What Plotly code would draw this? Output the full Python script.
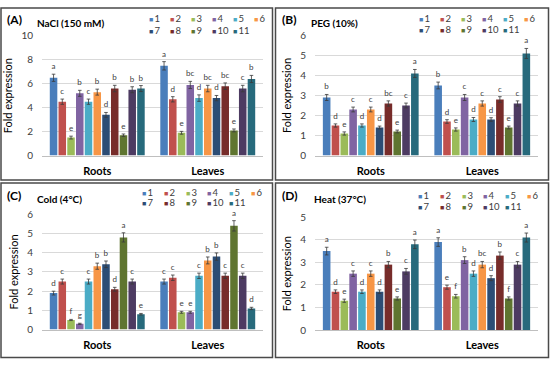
import plotly.graph_objects as go

W, H = 550, 365

tissues = ["Roots", "Leaves"]
series_names = ["1", "2", "3", "4", "5", "6", "7", "8", "9", "10", "11"]
series_colors = ["#4A7EBB", "#C0504D", "#9BBB59", "#8064A2", "#4BACC6", "#F79646",
                 "#2C4D75", "#772C2A", "#5F7530", "#4D3B62", "#276A7C"]

# (A) NaCl
nacl_roots = [6.5, 4.5, 1.5, 5.2, 4.5, 5.3, 3.4, 5.6, 1.7, 5.5, 5.6]
nacl_leaves = [7.5, 4.7, 1.9, 5.9, 4.8, 5.6, 4.8, 5.8, 2.1, 5.6, 6.4]
nacl_roots_err = [0.3, 0.22, 0.12, 0.25, 0.22, 0.25, 0.2, 0.27, 0.1, 0.25, 0.25]
nacl_leaves_err = [0.35, 0.22, 0.12, 0.3, 0.27, 0.27, 0.22, 0.27, 0.12, 0.27, 0.3]
nacl_roots_let = ["a", "c", "e", "b", "c", "b", "d", "b", "e", "b", "b"]
nacl_leaves_let = ["a", "d", "e", "bc", "d", "bc", "d", "bc", "e", "c", "b"]

# (B) PEG
peg_roots = [2.9, 1.5, 1.1, 2.3, 1.5, 2.3, 1.4, 2.6, 1.2, 2.5, 4.1]
peg_leaves = [3.5, 1.7, 1.3, 2.9, 1.8, 2.6, 1.8, 2.8, 1.4, 2.6, 5.1]
peg_roots_err = [0.15, 0.08, 0.08, 0.12, 0.08, 0.12, 0.07, 0.13, 0.07, 0.12, 0.2]
peg_leaves_err = [0.17, 0.09, 0.08, 0.15, 0.1, 0.13, 0.09, 0.14, 0.07, 0.13, 0.25]
peg_roots_let = ["b", "d", "e", "c", "d", "c", "d", "bc", "e", "c", "a"]
peg_leaves_let = ["b", "d", "e", "c", "d", "c", "d", "c", "e", "c", "a"]

# (C) Cold
cold_roots = [1.9, 2.5, 0.5, 0.3, 2.5, 3.3, 3.4, 2.1, 4.8, 2.5, 0.8]
cold_leaves = [2.5, 2.7, 0.9, 0.9, 2.8, 3.6, 3.8, 2.8, 5.4, 2.8, 1.1]
cold_roots_err = [0.1, 0.13, 0.03, 0.03, 0.13, 0.16, 0.17, 0.1, 0.24, 0.13, 0.04]
cold_leaves_err = [0.13, 0.14, 0.05, 0.05, 0.14, 0.18, 0.19, 0.14, 0.27, 0.14, 0.06]
cold_roots_let = ["d", "c", "f", "g", "c", "b", "b", "d", "a", "c", "e"]
cold_leaves_let = ["c", "c", "e", "e", "c", "b", "b", "c", "a", "c", "d"]

# (D) Heat
heat_roots = [3.5, 1.7, 1.3, 2.5, 1.7, 2.5, 1.7, 2.9, 1.4, 2.6, 3.8]
heat_leaves = [3.9, 1.9, 1.5, 3.1, 2.5, 2.9, 2.3, 3.3, 1.4, 2.9, 4.1]
heat_roots_err = [0.17, 0.08, 0.07, 0.12, 0.08, 0.12, 0.08, 0.14, 0.07, 0.13, 0.19]
heat_leaves_err = [0.19, 0.09, 0.08, 0.15, 0.12, 0.14, 0.11, 0.16, 0.07, 0.14, 0.2]
heat_roots_let = ["a", "d", "e", "c", "d", "c", "d", "b", "e", "c", "a"]
heat_leaves_let = ["a", "e", "f", "b", "d", "bc", "d", "b", "f", "c", "a"]

panel_labels = ["(A)", "(B)", "(C)", "(D)"]
panel_titles = ["NaCl (150 mM)", "PEG (10%)", "Cold (4°C)", "Heat (37°C)"]
y_max = [10, 6, 6, 5]
y_dtick = [2, 1, 1, 1]

panels = [
    (nacl_roots, nacl_leaves, nacl_roots_err, nacl_leaves_err, nacl_roots_let, nacl_leaves_let),
    (peg_roots, peg_leaves, peg_roots_err, peg_leaves_err, peg_roots_let, peg_leaves_let),
    (cold_roots, cold_leaves, cold_roots_err, cold_leaves_err, cold_roots_let, cold_leaves_let),
    (heat_roots, heat_leaves, heat_roots_err, heat_leaves_err, heat_roots_let, heat_leaves_let),
]

FONT = "Lato, 'Open Sans', sans-serif"

# layout geometry (pixels)
plot_x = [(42, 263), (315, 538), (42, 263), (315, 538)]
plot_y = [(30, 154), (29.5, 154), (215, 334.5), (218, 335)]
boxes = [(1, 1, 272.5, 179.5), (275.5, 1, 548.5, 179.5),
         (1, 182.5, 272.5, 363.5), (275.5, 182.5, 548.5, 363.5)]
label_pos = [(6, 13), (281, 13), (6, 195), (281, 195)]
title_pos = [(36, 17), (310, 17), (36, 199), (313, 199)]
legend_start = [(147.5, 12.3, 24.0), (418, 12.3, 23.5), (141, 192.5, 203.0), (417, 195.3, 206.5)]
legend_step = [21, 21, 21.8, 21.8]

def px(x):
    return x / W

def py(y):
    return 1 - y / H

fig = go.Figure()
annotations = []
shapes = []

for p, (r, l, re, le, rl, ll) in enumerate(panels):
    sfx = "" if p == 0 else str(p + 1)
    xa, ya = "x" + sfx, "y" + sfx
    for i, name in enumerate(series_names):
        vals = [r[i], l[i]]
        errs = [re[i], le[i]]
        fig.add_trace(go.Bar(
            x=tissues, y=vals, name=name, xaxis=xa, yaxis=ya,
            offsetgroup="s" + name, showlegend=False,
            marker=dict(color=series_colors[i], line=dict(width=0)),
            error_y=dict(type="data", array=errs, visible=True,
                         color="#3a3a3a", thickness=0.8, width=1.8),
        ))
        # letters placed just above the error bars
        fig.add_trace(go.Bar(
            x=tissues, y=[v + e for v, e in zip(vals, errs)], xaxis=xa, yaxis=ya,
            offsetgroup="s" + name, showlegend=False, hoverinfo="skip",
            marker=dict(color="rgba(0,0,0,0)", line=dict(width=0)),
            text=[rl[i], ll[i]], textposition="outside", cliponaxis=False,
            constraintext="none",
            textfont=dict(family=FONT, size=8, color="#404040"),
        ))
    # legend built from the series names/colours
    lx, ly1, ly2 = legend_start[p]
    for i, name in enumerate(series_names):
        row = i // 6
        col = i % 6
        annotations.append(dict(
            xref="paper", yref="paper", x=px(lx + col * legend_step[p]),
            y=py(ly1 if row == 0 else ly2), xanchor="left", yanchor="middle",
            showarrow=False, borderpad=0,
            text=f"<span style='color:{series_colors[i]};font-size:7px'>■</span>\u2009{name}",
            font=dict(family=FONT, size=9.5, color="#404040"),
        ))
    annotations.append(dict(
        xref="paper", yref="paper", x=px(label_pos[p][0]), y=py(label_pos[p][1]),
        xanchor="left", yanchor="middle", showarrow=False, borderpad=0,
        text=f"<b>{panel_labels[p]}</b>", font=dict(family=FONT, size=12, color="#000000")))
    annotations.append(dict(
        xref="paper", yref="paper", x=px(title_pos[p][0]), y=py(title_pos[p][1]),
        xanchor="left", yanchor="middle", showarrow=False, borderpad=0,
        text=f"<b>{panel_titles[p]}</b>", font=dict(family=FONT, size=10, color="#000000")))
    bx0, by0, bx1, by1 = boxes[p]
    shapes.append(dict(type="rect", xref="paper", yref="paper",
                       x0=px(bx0), y0=py(by1), x1=px(bx1), y1=py(by0),
                       line=dict(color="#4a4a4a", width=1.5), layer="below"))

    xdom = [px(plot_x[p][0]), px(plot_x[p][1])]
    ydom = [py(plot_y[p][1]), py(plot_y[p][0])]
    fig.layout["xaxis" + sfx] = dict(
        domain=xdom, anchor=ya, type="category", showgrid=False, showline=True,
        linecolor="#BFBFBF", linewidth=1, ticks="", ticklabelstandoff=5,
        tickfont=dict(family=FONT, size=11, color="#000000", weight="bold"),
        fixedrange=True,
    )
    fig.layout["yaxis" + sfx] = dict(
        domain=ydom, anchor=xa, range=[0, y_max[p]], dtick=y_dtick[p],
        showgrid=True, gridcolor="#D9D9D9", gridwidth=1, zeroline=False,
        showline=False, ticks="", ticklabelstandoff=8,
        tickfont=dict(family=FONT, size=10, color="#404040"),
        title=dict(text="Fold expression", standoff=6,
                   font=dict(family=FONT, size=11, color="#000000")),
        fixedrange=True,
    )

fig.update_layout(
    width=W, height=H, margin=dict(l=0, r=0, t=0, b=0),
    paper_bgcolor="white", plot_bgcolor="white",
    barmode="group", bargap=0.13, bargroupgap=0.14,
    annotations=annotations, shapes=shapes, showlegend=False,
    font=dict(family=FONT),
)

fig.write_html("out.html", config={"displayModeBar": False},
               post_script="document.body.style.margin='0';")
